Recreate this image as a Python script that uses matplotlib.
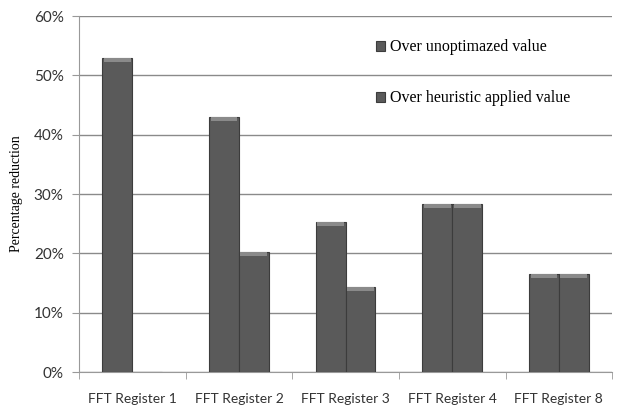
import matplotlib
matplotlib.use("Agg")
import matplotlib.pyplot as plt
import numpy as np
from matplotlib.ticker import PercentFormatter

categories = ["FFT Register 1", "FFT Register 2", "FFT Register 3", "FFT Register 4", "FFT Register 8"]
over_unoptimized = [53, 43, 25.3, 28.3, 16.5]
over_heuristic = [0, 20.2, 14.3, 28.3, 16.5]
series_labels = ["Over unoptimazed value", "Over heuristic applied value"]
yticks = [0, 10, 20, 30, 40, 50, 60]

fig = plt.figure(figsize=(6.19, 4.12), dpi=100)
ax = fig.add_axes([0.1276, 0.097, 0.989 - 0.1276, 0.961 - 0.097])

x = np.arange(len(categories))
w = 0.28
bar_kw = dict(width=w, color="#5a5a5a", edgecolor="#3c3c3c", linewidth=0.8, zorder=3)
ax.bar(x - w / 2, over_unoptimized, label=series_labels[0], **bar_kw)
ax.bar(x + w / 2, over_heuristic, label=series_labels[1], **bar_kw)

# subtle lighter strip at bar tops
hl = 0.7
for off, vals in ((-w / 2, over_unoptimized), (w / 2, over_heuristic)):
    v = np.array(vals, dtype=float)
    mask = v > 0
    ax.bar((x + off)[mask], np.full(mask.sum(), hl), bottom=v[mask] - hl, width=w * 0.9,
           color="#8a8a8a", linewidth=0, zorder=4)

ax.set_xlim(-0.5, len(categories) - 0.5)
ax.set_ylim(0, 60)
ax.set_yticks(yticks)
ax.yaxis.set_major_formatter(PercentFormatter(decimals=0))
ax.set_xticks(x)
ax.set_xticklabels(categories)
ax.set_xticks(np.arange(len(categories) + 1) - 0.5, minor=True)
ax.tick_params(axis="x", which="major", length=0, pad=15, labelsize=10, colors="#333333")
ax.tick_params(axis="x", which="minor", length=5, color="#999999")
ax.tick_params(axis="y", length=5, pad=6, color="#999999", labelsize=11, labelcolor="#333333")
for lab in ax.get_xticklabels() + ax.get_yticklabels():
    lab.set_fontfamily("Lato")

ax.grid(axis="y", color="#8a8a8a", linewidth=1.0, zorder=0)
for s in ["top", "right"]:
    ax.spines[s].set_visible(False)
for s in ["left", "bottom"]:
    ax.spines[s].set_color("#999999")

ax.set_ylabel("Percentage reduction", fontfamily="Liberation Serif", fontsize=10, labelpad=8)

leg = ax.legend(loc="upper left", bbox_to_anchor=(0.53, 0.975), frameon=False,
                prop={"family": "Liberation Serif", "size": 11.5},
                handlelength=0.55, handleheight=0.55, handletextpad=0.3, labelspacing=2.2)

fig.savefig("out.png", dpi=100)
